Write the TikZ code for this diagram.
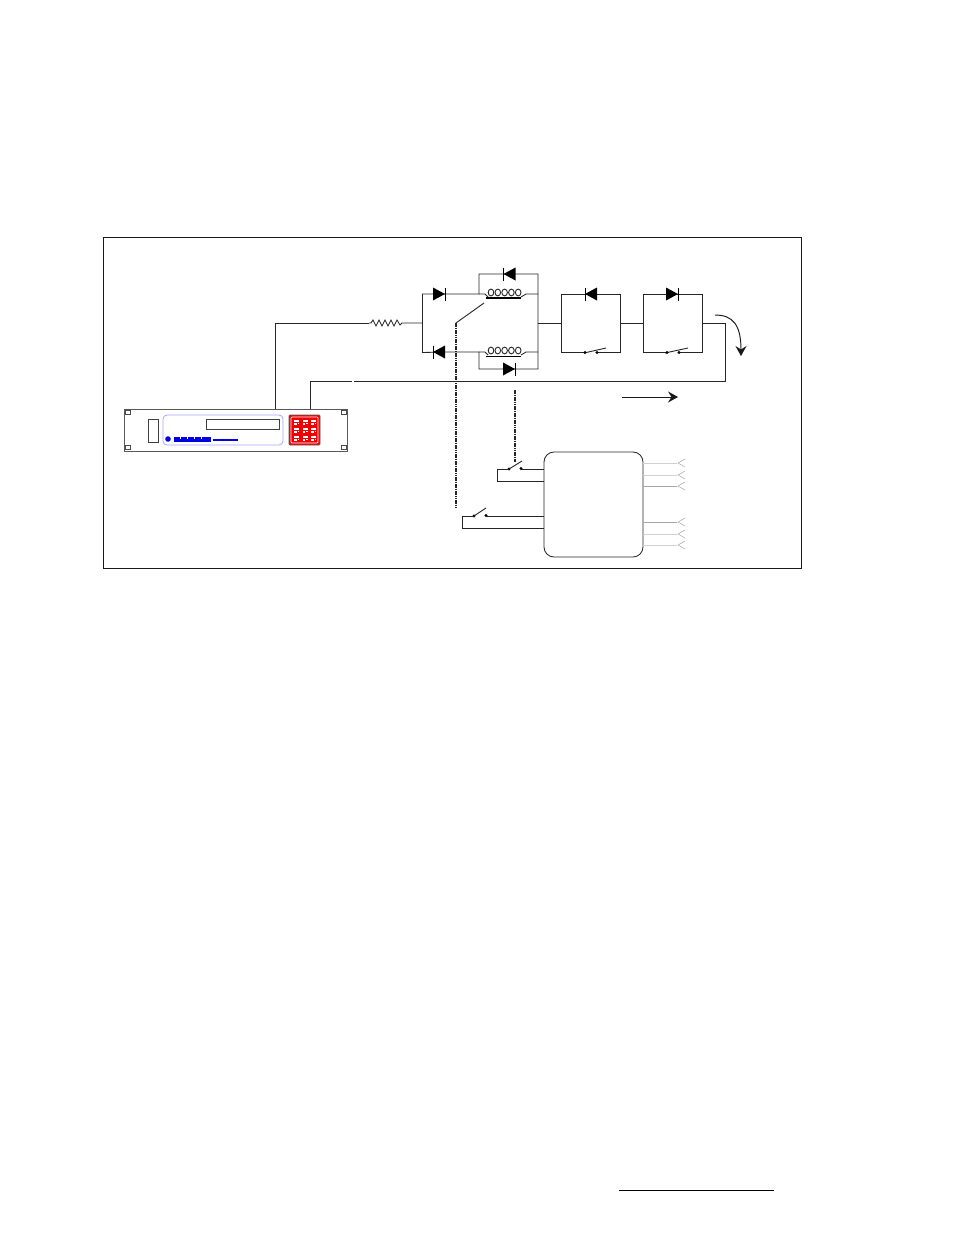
\documentclass[tikz,border=0pt]{standalone}
\usetikzlibrary{arrows.meta}
\tikzset{
  x=1pt,y=-1pt,
  wire/.style={line width=0.85pt,black!85},
  pale/.style={line width=0.9pt,black!35},
  palest/.style={line width=0.9pt,black!18},
  ctrl/.style={line width=1.5pt,dash pattern=on 1.6pt off 0.7pt,black!85},
  blueln/.style={line width=0.8pt,blue!35},
  tipped/.style={line width=0.95pt,black!90,-{Stealth[length=10pt,width=11pt,inset=3.5pt]}},
  diodeR/.pic={\fill[black] (-6,-6.5) -- (6,0) -- (-6,6.5) -- cycle; \draw[line width=0.9pt] (6,-6.5) -- (6,6.5);},
  diodeL/.pic={\fill[black] (6,-6.5) -- (-6,0) -- (6,6.5) -- cycle; \draw[line width=0.9pt] (-6,-6.5) -- (-6,6.5);},
  coil/.pic={\foreach \i in {0,...,4} \draw[line width=0.9pt,black!85] ({-13.5+\i*6.8},0) ellipse (2.8 and 3.4);},
  chev/.pic={\draw[line width=0.6pt,black!30] (7,-4) -- (0,0) -- (7,4);},
  swdot/.style={circle,fill=black,inner sep=0pt,minimum size=3.2pt},
}
\begin{document}
\begin{tikzpicture}
\useasboundingbox (0,0) rectangle (954,1235);
\fill[white] (0,0) rectangle (954,1235);
\draw[line width=0.9pt,black!90] (103,237.5) rectangle (801.5,568.5);
\draw[line width=0.9pt,black] (619,1190) -- (774,1190);

% named points
\coordinate (tapA) at (275,409);
\coordinate (tapB) at (310,409);
\coordinate (rIn) at (369,323);
\coordinate (rOut) at (402,323);
\coordinate (busL) at (422,323);
\coordinate (busR) at (538,323);
\coordinate (b2L) at (561,323);
\coordinate (b2R) at (620,323);
\coordinate (b3L) at (643,323);
\coordinate (b3R) at (702,323);
\coordinate (loopR) at (725,323);

% device
\draw[line width=1pt,black!65] (124,409) rectangle (347,451);
\foreach \x/\y in {125/410,125/445,341/410,341/445}
  \draw[line width=0.9pt,black!70] (\x,\y) rectangle ++(5,4);
\draw[line width=0.9pt,black!75] (148,419) rectangle (158,442);
\draw[blueln,rounded corners=4pt] (163,415) rectangle (283,445);
\draw[line width=0.9pt,black!75] (206,419) rectangle (279,429);
\fill[blue!90!black] (168,439) circle (2.8);
\fill[blue!90!black] (174,436.5) rectangle (211,441.5);
\foreach \x in {180,187,194,201} \fill[white] (\x,436.5) rectangle ++(1.2,2);
\fill[blue!90!black] (213,438.5) rectangle (238,441);
\fill[red!95!black,draw=black!65,line width=0.9pt,rounded corners=1pt] (289,415) rectangle (320,445);
\draw[white,line width=0.7pt,rounded corners=1pt] (291,417) rectangle (318,443);
\foreach \c in {0,1,2} \foreach \r in {0,1,2}{
  \fill[white] ({294+\c*8.6},{419.5+\r*8}) rectangle ++(5,2);
  \fill[white] ({294+\c*8.6},{423+\r*8}) rectangle ++(2.5,2);
  \fill[white] ({297.5+\c*8.6},{423+\r*8}) rectangle ++(1.5,1);
}

% input wires
\draw[wire] (tapA) |- (rIn);
\draw[wire] (rIn) -- (371,323) -- (373,320) -- (376,326) -- (379,320) -- (382,326) -- (385,320) -- (388,326) -- (391,320) -- (394,326) -- (397,320) -- (400,325) -- (rOut) -- (busL);
\draw[wire] (tapB) |- (352,381);
\draw[wire] (354,381) -- (725,381) -- (loopR) -- (b3R);

% left diode bridge and coils
\coordinate (tl) at (422,294); \coordinate (bl) at (422,353);
\draw[wire] (tl) -- (bl);
\draw[wire] (tl) -- (479,294) -- (479,274) -- (538,274) -- (538,369) -- (479,369) -- (479,352) -- (445,352) -- (422,352.5);
\draw[wire] (479,294) -- (485,294) -- (488,297) (521,297) -- (526,294) -- (538,294);
\draw[wire] (479,352) -- (485,352) -- (488,355) (521,355) -- (526,352) -- (538,352);
\draw[line width=1.7pt,black] (486,298) -- (521,298);
\draw[line width=1pt,black] (486,356) -- (521,356);
\pic at (504.5,292.5) {coil};
\pic at (504.5,350.5) {coil};
\pic at (439,294) {diodeR};
\pic at (439,352) {diodeL};
\pic at (509.5,274) {diodeL};
\pic at (509,369) {diodeR};

% relay link and control lines
\draw[line width=0.9pt,black!85] (456,323) -- (484,303);
\draw[ctrl] (456,323) -- (456,508);
\draw[ctrl] (515,390) -- (515,462);

% series boxes
\draw[wire] (busR) -- (b2L);
\draw[wire] (b2R) -- (b3L);
\draw[wire] (585,352) -- (561,352) -- (561,294) -- (620,294) -- (620,352) -- (597,352);
\draw[line width=0.9pt,black!85] (584,353) -- (606,348);
\fill (597,352.5) circle (1.6) (585,352.5) circle (1.6);
\pic at (591,294) {diodeL};

\draw[wire] (666,352) -- (643,352) -- (643,294) -- (702,294) -- (702,352) -- (679,352);
\draw[line width=0.9pt,black!85] (665,353) -- (688,348);
\fill (679,352.5) circle (1.6) (667,352.5) circle (1.6);
\pic at (672,294) {diodeR};

% arrows
\draw[tipped] (715,315) .. controls (733,315) and (741,325) .. (741,356);
\draw[tipped] (622,397) -- (678,397);

% controller
\draw[wire,rounded corners=10pt] (544,452) rectangle (643,557);
\node[swdot] (s1a) at (509,469) {};
\node[swdot] (s1b) at (521,468.5) {};
\node[swdot] (s2a) at (474,516) {};
\node[swdot] (s2b) at (486,515.5) {};
\draw[wire] (s1a.center) -- (497,469) -- (497,481) -- (544,481);
\draw[wire] (s1b.center) -- (521,469) -- (544,469);
\draw[line width=0.9pt,black!85] (s1a.center) -- (522,461);
\draw[wire] (s2a.center) -- (462,516) -- (462,528) -- (544,528);
\draw[wire] (s2b.center) -- (486,516) -- (544,516);
\draw[line width=0.9pt,black!85] (s2a.center) -- (486,508);

% outputs
\foreach \y/\s in {463/palest,475/palest,486/pale,522/pale,534/palest,545/palest}{
  \draw[\s] (643,\y) -- (677,\y);
  \pic at (678,\y) {chev};
}
\end{tikzpicture}
\end{document}
